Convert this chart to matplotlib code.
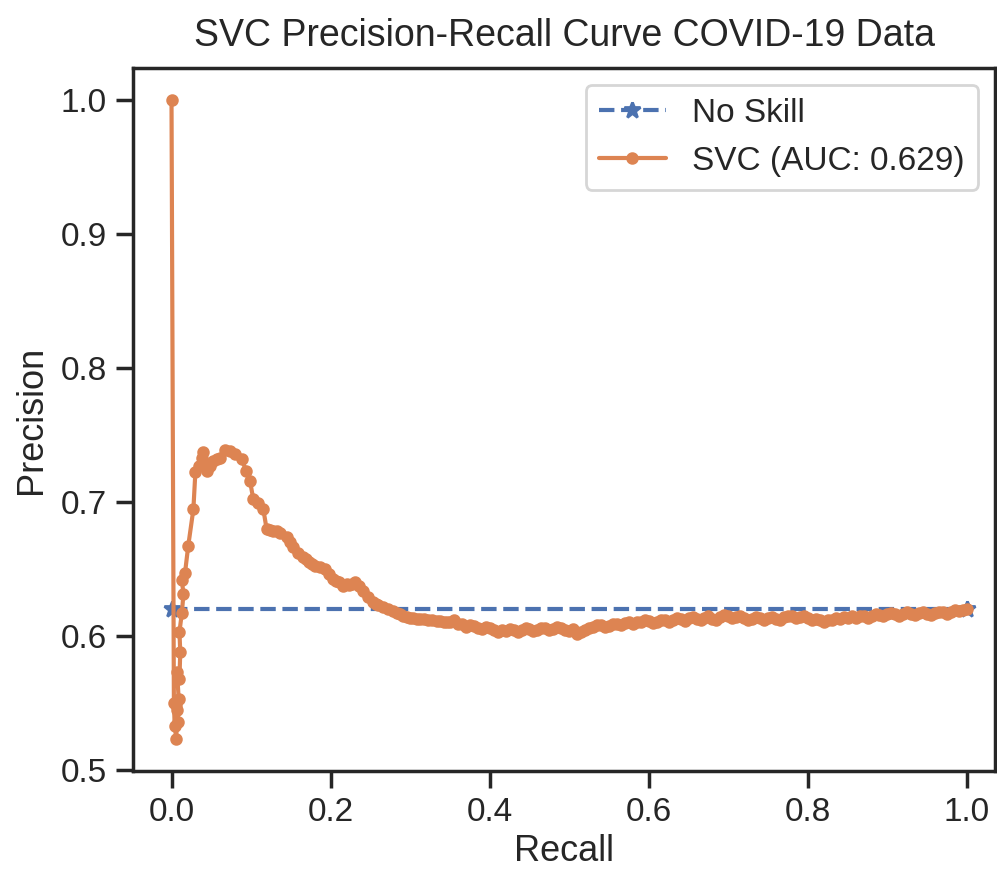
import matplotlib
matplotlib.use("Agg")
import matplotlib.pyplot as plt
import seaborn as sns

sns.set_theme(style="ticks", context="notebook")
plt.rcParams["font.family"] = ["Liberation Sans", "DejaVu Sans"]

title = "SVC Precision-Recall Curve COVID-19 Data"
x_label = "Recall"
y_label = "Precision"
no_skill_label = "No Skill"
model_label = "SVC (AUC: 0.629)"

no_skill_recall = [0.0, 1.0]
no_skill_precision = [0.62, 0.62]

recall_head = [
    0.000, 0.003, 0.004, 0.006, 0.007, 0.006, 0.008, 0.009, 0.007, 0.010,
    0.011, 0.010, 0.013, 0.015, 0.013, 0.017, 0.021, 0.0275, 0.030, 0.034,
    0.038, 0.040, 0.041, 0.044, 0.048, 0.0526, 0.057, 0.061, 0.0673, 0.073,
    0.0798, 0.0882, 0.094, 0.0987, 0.1028, 0.109, 0.1154, 0.1196, 0.124, 0.128,
    0.132, 0.1364, 0.1448, 0.149, 0.1531, 0.159, 0.1657, 0.169, 0.173, 0.177,
    0.1804, 0.187, 0.193, 0.198, 0.2034, 0.207, 0.210, 0.216, 0.220, 0.223,
    0.227, 0.2307, 0.236, 0.2411, 0.247, 0.2537, 0.257, 0.260, 0.2663, 0.272,
    0.2788, 0.283, 0.287, 0.291, 0.2956, 0.300, 0.304, 0.308, 0.3124, 0.317,
    0.322, 0.327, 0.3334, 0.338, 0.342, 0.346, 0.3501,
]
precision_head = [
    1.000, 0.550, 0.533, 0.523, 0.545, 0.548, 0.536, 0.553, 0.573, 0.568,
    0.588, 0.603, 0.617, 0.631, 0.642, 0.647, 0.667, 0.6945, 0.722, 0.727,
    0.733, 0.737, 0.729, 0.723, 0.727, 0.7305, 0.732, 0.733, 0.739, 0.738,
    0.7355, 0.7317, 0.723, 0.7156, 0.702, 0.699, 0.6945, 0.6796, 0.679, 0.678,
    0.6785, 0.6771, 0.6734, 0.670, 0.666, 0.662, 0.6585, 0.657, 0.655, 0.6535,
    0.6522, 0.651, 0.6498, 0.646, 0.6423, 0.641, 0.640, 0.6373, 0.6385, 0.638,
    0.639, 0.6399, 0.637, 0.6336, 0.629, 0.625, 0.624, 0.623, 0.6212, 0.620,
    0.6187, 0.617, 0.616, 0.6145, 0.6138, 0.6135, 0.613, 0.6128, 0.6125, 0.6122,
    0.612, 0.6115, 0.6113, 0.6108, 0.6105, 0.6102, 0.610,
]

recall_tail = [
    0.355, 0.360, 0.365, 0.370, 0.375, 0.380, 0.385, 0.390, 0.395, 0.400,
    0.405, 0.410, 0.415, 0.420, 0.425, 0.430, 0.435, 0.440, 0.445, 0.450,
    0.455, 0.460, 0.465, 0.470, 0.475, 0.480, 0.485, 0.490, 0.495, 0.500,
    0.505, 0.510, 0.515, 0.520, 0.525, 0.530, 0.535, 0.540, 0.545, 0.550,
    0.555, 0.560, 0.565, 0.570, 0.575, 0.580, 0.585, 0.590, 0.595, 0.600,
    0.605, 0.610, 0.615, 0.620, 0.625, 0.630, 0.635, 0.640, 0.645, 0.650,
    0.655, 0.660, 0.665, 0.670, 0.675, 0.680, 0.685, 0.690, 0.695, 0.700,
    0.705, 0.710, 0.715, 0.720, 0.725, 0.730, 0.735, 0.740, 0.745, 0.750,
    0.755, 0.760, 0.765, 0.770, 0.775, 0.780, 0.785, 0.790, 0.795, 0.800,
    0.805, 0.810, 0.815, 0.820, 0.825, 0.830, 0.835, 0.840, 0.845, 0.850,
    0.855, 0.860, 0.865, 0.870, 0.875, 0.880, 0.885, 0.890, 0.895, 0.900,
    0.905, 0.910, 0.915, 0.920, 0.925, 0.930, 0.935, 0.940, 0.945, 0.950,
    0.955, 0.960, 0.965, 0.970, 0.975, 0.980, 0.985, 0.990, 0.995, 1.000,
]
precision_tail = [
    0.6115, 0.6090, 0.6085, 0.6065, 0.6080, 0.6070, 0.6055, 0.6050, 0.6065, 0.6055,
    0.6045, 0.6030, 0.6040, 0.6035, 0.6050, 0.6045, 0.6030, 0.6040, 0.6055, 0.6050,
    0.6035, 0.6045, 0.6060, 0.6055, 0.6040, 0.6050, 0.6065, 0.6060, 0.6045, 0.6035,
    0.6050, 0.6010, 0.6030, 0.6040, 0.6055, 0.6065, 0.6080, 0.6080, 0.6065, 0.6075,
    0.6090, 0.6090, 0.6080, 0.6095, 0.6105, 0.6090, 0.6100, 0.6105, 0.6120, 0.6110,
    0.6095, 0.6105, 0.6120, 0.6115, 0.6100, 0.6120, 0.6135, 0.6125, 0.6110, 0.6130,
    0.6140, 0.6125, 0.6115, 0.6135, 0.6145, 0.6125, 0.6115, 0.6140, 0.6155, 0.6145,
    0.6130, 0.6140, 0.6150, 0.6130, 0.6120, 0.6125, 0.6140, 0.6135, 0.6120, 0.6130,
    0.6140, 0.6125, 0.6115, 0.6140, 0.6150, 0.6145, 0.6130, 0.6140, 0.6150, 0.6135,
    0.6120, 0.6125, 0.6115, 0.6105, 0.6120, 0.6115, 0.6130, 0.6125, 0.6140, 0.6130,
    0.6145, 0.6135, 0.6150, 0.6145, 0.6135, 0.6150, 0.6165, 0.6155, 0.6145, 0.6160,
    0.6170, 0.6165, 0.6150, 0.6160, 0.6175, 0.6165, 0.6155, 0.6170, 0.6180, 0.6165,
    0.6155, 0.6170, 0.6180, 0.6175, 0.6165, 0.6180, 0.6190, 0.6185, 0.6195, 0.6200,
]

recall = recall_head + recall_tail
precision = precision_head + precision_tail

blue = "#4C72B0"
orange = "#DD8452"

fig = plt.figure(figsize=(4.985, 4.355), dpi=200)
ax = fig.add_axes([0.1334, 0.1148, 0.8646, 0.8071])

ax.plot(no_skill_recall, no_skill_precision, linestyle="--", marker="*",
        color=blue, label=no_skill_label)
ax.plot(recall, precision, marker=".", markersize=7, linewidth=1.5,
        color=orange, label=model_label)

ax.set_xlim(-0.0484, 1.0352)
ax.set_ylim(0.4991, 1.0238)
ax.set_xticks([0.0, 0.2, 0.4, 0.6, 0.8, 1.0])
ax.set_yticks([0.5, 0.6, 0.7, 0.8, 0.9, 1.0])
ax.set_xlabel(x_label, fontsize=13, labelpad=2)
ax.set_ylabel(y_label, fontsize=13)
ax.set_title(title, fontsize=13.5, pad=8)
ax.tick_params(labelsize=12)
ax.legend(loc="upper right", fontsize=12)

fig.savefig("out.png", dpi=200)
